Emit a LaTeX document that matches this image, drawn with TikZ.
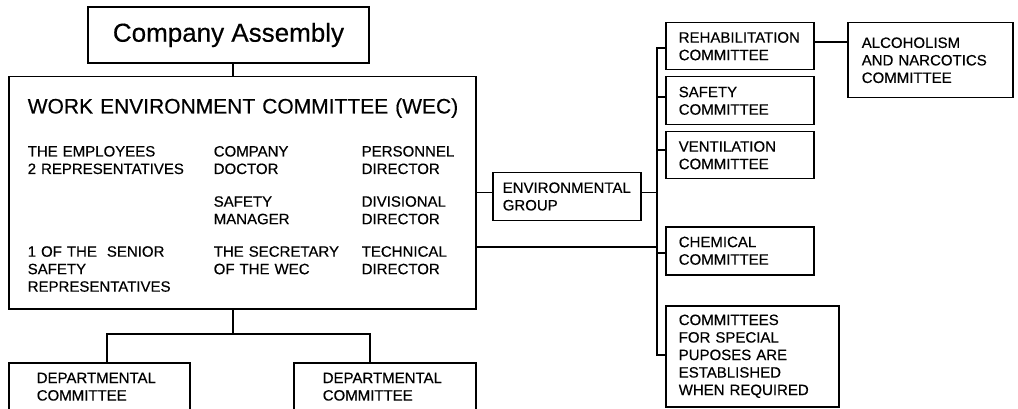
\documentclass[tikz,border=0pt]{standalone}
\usepackage{fontspec}
\setmainfont[FakeBold=0.4]{Liberation Sans}
\begin{document}
\begin{tikzpicture}[x=1pt,y=-1pt,line width=1.5pt,
  box/.style={draw, rectangle, anchor=north west, align=left, inner ysep=0pt,
    font=\fontsize{15}{17.5}\selectfont},
  txt/.style={anchor=base west, inner sep=0pt, align=left,
    font=\fontsize{15}{17.5}\selectfont},
  conn/.style={line width=1.5pt}]
\useasboundingbox (0,0) rectangle (1018,409);
\fill[white] (0,0) rectangle (1018,409);
\clip (0,0) rectangle (1018,409);

% top
\node[draw, minimum width=281pt, minimum height=56pt, inner sep=0pt,
  font=\fontsize{26}{30}\selectfont] (ca) at (228.5,35) {Company Assembly};

% WEC
\node[draw, anchor=north west, minimum width=467pt, minimum height=232pt, inner sep=0pt] (wec) at (8,76) {};
\node[txt, text width=445pt, font=\fontsize{21}{25}\selectfont] (title) at (27,113.5) {WORK ENVIRONMENT COMMITTEE (WEC)};
\node[txt, text width=185pt] (c1a) at (27,156.5) {THE EMPLOYEES\\2 REPRESENTATIVES};
\node[txt, text width=185pt] (c1b) at (27,256.7) {1 OF THE\ \ SENIOR\\SAFETY\\REPRESENTATIVES};
\node[txt, text width=145pt] (c2a) at (213,156.5) {COMPANY\\DOCTOR};
\node[txt, text width=145pt] (c2b) at (213,206.7) {SAFETY\\MANAGER};
\node[txt, text width=145pt] (c2c) at (213,256.7) {THE SECRETARY\\OF THE WEC};
\node[txt, text width=110pt] (c3a) at (361,156.5) {PERSONNEL\\DIRECTOR};
\node[txt, text width=110pt] (c3b) at (361,206.7) {DIVISIONAL\\DIRECTOR};
\node[txt, text width=110pt] (c3c) at (361,256.7) {TECHNICAL\\DIRECTOR};

% departmental
\node[box, inner xsep=28pt, inner ysep=10pt, text width=125pt, text depth=40pt] (d1) at (8,362) {DEPARTMENTAL\\COMMITTEE};
\node[box, inner xsep=29pt, inner ysep=10pt, text width=124pt, text depth=40pt] (d2) at (293,362) {DEPARTMENTAL\\COMMITTEE};

% right side
\node[box, inner xsep=10pt, text width=128pt, minimum height=47.5pt] (env) at (492,172) {ENVIRONMENTAL\\GROUP};
\node[box, inner xsep=13pt, text width=122pt, minimum height=47pt] (rehab) at (665,22) {REHABILITATION\\COMMITTEE};
\node[box, inner xsep=13pt, text width=122pt, minimum height=48pt] (safety) at (665,76) {SAFETY\\COMMITTEE};
\node[box, inner xsep=13pt, text width=122pt, minimum height=47pt] (vent) at (665,131) {VENTILATION\\COMMITTEE};
\node[box, inner xsep=13pt, text width=122pt, minimum height=48pt] (chem) at (665,226) {CHEMICAL\\COMMITTEE};
\node[box, inner xsep=13pt, text width=147pt, minimum height=101pt] (special) at (665,305) {COMMITTEES\\FOR SPECIAL\\PUPOSES ARE\\ESTABLISHED\\WHEN REQUIRED};
\node[box, inner xsep=14pt, text width=137pt, minimum height=75pt] (alc) at (847,22) {ALCOHOLISM\\AND NARCOTICS\\COMMITTEE};

% connectors
\coordinate (t) at (233,0);
\draw[conn] (ca.south -| t) -- (wec.north -| t);
\coordinate (bj) at (233,334);
\coordinate (d1j) at (107,334);
\coordinate (d2j) at (370,334);
\draw[conn] (wec.south -| bj) -- (bj);
\draw[conn] (d1.north -| d1j) -- (d1j) -- (d2j) -- (d2.north -| d2j);

\coordinate (bustop) at (657,48);
\coordinate (busbot) at (657,355);
\draw[conn] (wec.east) -- (wec.east -| env.west);
\draw[conn] (env.east |- wec.east) -- (wec.east -| bustop);
\coordinate (wl) at (0,247);
\draw[conn] (wec.east |- wl) -- (bustop |- wl);
\draw[conn] (rehab.west |- bustop) -- (bustop) -- (busbot) -- (special.west |- busbot);
\coordinate (ys) at (0,97);
\draw[conn] (bustop |- ys) -- (safety.west |- ys);
\coordinate (yv) at (0,150);
\draw[conn] (bustop |- yv) -- (vent.west |- yv);
\coordinate (yc) at (0,253);
\draw[conn] (bustop |- yc) -- (chem.west |- yc);
\coordinate (ya) at (0,42);
\draw[conn] (rehab.east |- ya) -- (alc.west |- ya);
\end{tikzpicture}
\end{document}
